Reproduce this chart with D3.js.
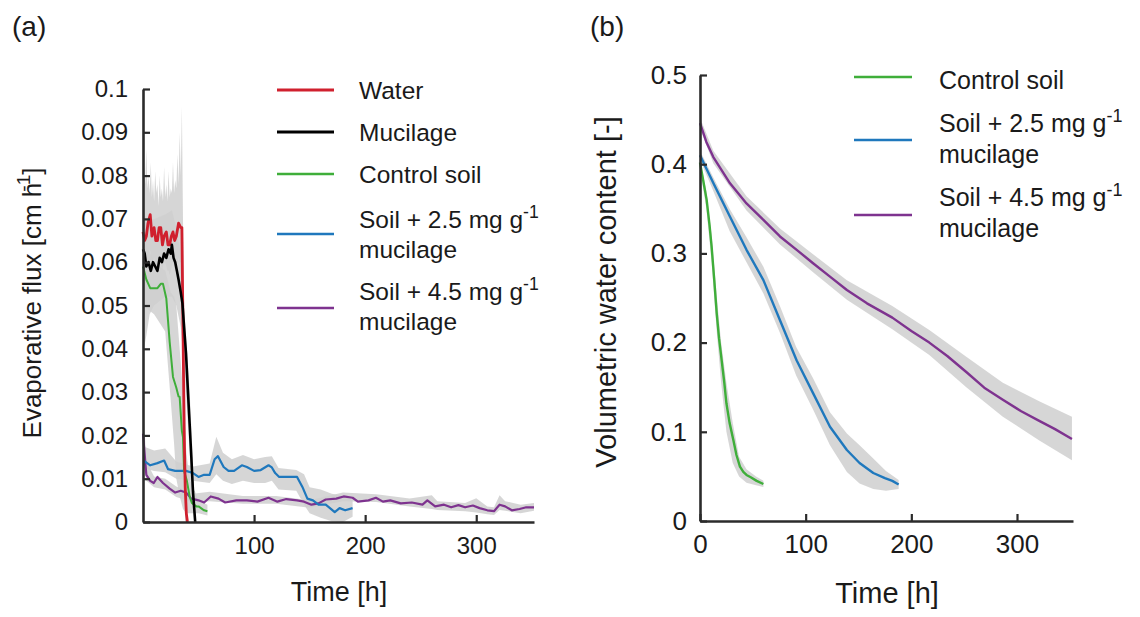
<!DOCTYPE html>
<html>
<head>
<meta charset="utf-8">
<script src="https://cdn.jsdelivr.net/npm/d3@7"></script>
<style>
  body { margin: 0; background: #fff; }
  svg { display: block; }
  text { font-family: "Liberation Sans", Arial, Helvetica, sans-serif; fill: #1a1a1a; }
</style>
</head>
<body>
<svg id="fig" width="1140" height="617"></svg>
<script>
// ---------- (a) evaporative flux [cm h-1] vs time [h] ----------
const waterFlux = [[0,0.067],[1.5,0.065],[3,0.066],[4.5,0.069],[6.5,0.071],[8,0.066],[10,0.068],[11.5,0.065],[13,0.065],[14.5,0.068],[16,0.068],[17.5,0.064],[19,0.066],[21,0.067],[22.5,0.064],[24,0.064],[25.5,0.066],[27,0.067],[28.5,0.065],[30,0.066],[32,0.069],[34,0.068],[35,0.068],[36,0.045],[37,0.022],[38,0.008],[39,0.002],[40,0]];
const mucilageFlux = [[0,0.063],[1.5,0.062],[3,0.059],[5,0.06],[7,0.058],[9,0.06],[11,0.059],[13,0.058],[15,0.061],[17,0.06],[19,0.062],[21,0.061],[23,0.063],[25,0.062],[26,0.064],[27.5,0.061],[29,0.06],[30.5,0.058],[32,0.056],[34,0.053],[35.5,0.0505],[37,0.045],[38.7,0.039],[40.5,0.03],[42,0.0226],[43.5,0.015],[45,0.007],[47,0]];
const controlFlux = [[0,0.059],[3,0.056],[6.5,0.054],[10,0.054],[13,0.054],[16,0.055],[18,0.055],[21,0.0516],[24,0.0416],[27,0.0335],[30,0.031],[32,0.029],[33,0.0289],[35,0.021],[36,0.0196],[37,0.0118],[39.5,0.0095],[42,0.0059],[44,0.0044],[48,0.0036],[50,0.0036],[55,0.0027],[58,0.0025]];
const mucilage25Flux = [[0,0.014],[1.6,0.014],[6.5,0.0131],[13,0.0136],[19,0.0142],[22.6,0.0122],[29,0.0118],[38.7,0.0118],[45,0.0113],[50,0.0104],[55,0.0109],[60,0.0109],[64.5,0.0145],[67.5,0.0152],[72.6,0.0127],[77,0.0118],[82,0.0118],[89,0.0131],[93.5,0.0127],[100,0.0118],[106,0.012],[113,0.0131],[116,0.0126],[119,0.0113],[122.6,0.0104],[130,0.0104],[138.7,0.0104],[143.5,0.0081],[148,0.0054],[153,0.005],[158,0.004],[164.5,0.004],[172.6,0.0023],[177,0.0032],[182,0.0027],[188.7,0.0032]];
const mucilage45Flux = [[0,0.0204],[3,0.0109],[6.5,0.0095],[9.7,0.009],[13,0.0104],[18,0.009],[24,0.0077],[29,0.0068],[34,0.0072],[38.7,0.0068],[43.5,0.0054],[50,0.005],[55,0.0045],[61,0.0059],[68,0.0054],[74,0.0045],[84,0.005],[93.5,0.005],[103,0.0047],[113,0.0056],[121,0.0047],[129,0.0053],[138.7,0.005],[145,0.0047],[151.6,0.004],[158,0.0043],[164.5,0.0052],[174,0.0054],[180.6,0.0059],[188.7,0.0056],[193.5,0.0047],[203,0.005],[209.7,0.0056],[216,0.0047],[222.6,0.005],[232,0.0043],[242,0.0045],[251.6,0.004],[256,0.005],[263,0.0036],[271,0.004],[277.4,0.0034],[284,0.0039],[290,0.0034],[297,0.0038],[303,0.0032],[310,0.0027],[316,0.0025],[321,0.004],[326,0.0036],[332,0.0027],[339,0.003],[345,0.0034],[352,0.0034]];

// spread bands: [time, lower, upper]
const waterBand = [[0,0.06,0.075],[1,0.058,0.082],[2,0.059,0.078],[3,0.06,0.086],[4,0.061,0.077],[5,0.062,0.08],[6,0.063,0.076],[7,0.062,0.083],[8,0.06,0.075],[9,0.06,0.079],[10,0.061,0.074],[11,0.06,0.081],[12,0.059,0.076],[13,0.058,0.078],[14,0.06,0.073],[15,0.061,0.08],[16,0.06,0.075],[17,0.058,0.077],[18,0.059,0.074],[19,0.06,0.082],[20,0.06,0.075],[21,0.059,0.078],[22,0.058,0.074],[23,0.058,0.081],[24,0.057,0.075],[25,0.058,0.077],[26,0.059,0.076],[27,0.06,0.083],[28,0.059,0.076],[29,0.058,0.079],[30,0.059,0.077],[31,0.06,0.085],[32,0.061,0.078],[33,0.06,0.09],[34,0.06,0.08],[35,0.058,0.096],[36,0.03,0.07],[37,0.01,0.05],[38,0,0.03],[39,0,0.012],[40,0,0.002]];
const mucilageBand = [[0,0.039,0.072],[3,0.043,0.07],[6,0.048,0.07],[10,0.05,0.07],[20,0.052,0.071],[26,0.052,0.072],[30,0.05,0.068],[34,0.045,0.062],[38,0.033,0.046],[42,0.016,0.03],[46,0,0.008],[47,0,0.002]];
const controlBand = [[0,0.05,0.066],[10,0.048,0.06],[20,0.044,0.058],[25,0.028,0.053],[28,0.018,0.052],[30,0.01,0.05],[33,0.006,0.04],[36,0.003,0.03],[39,0.002,0.016],[42,0.002,0.01],[50,0.002,0.005],[58,0.0015,0.004]];
const mucilage25Band = [[0,0.0125,0.0175],[10,0.0118,0.0165],[20,0.0115,0.017],[30,0.01,0.014],[45,0.0095,0.0128],[60,0.009,0.0135],[66,0.011,0.0197],[72,0.0095,0.016],[80,0.0088,0.0145],[90,0.0095,0.0155],[100,0.009,0.0145],[110,0.009,0.015],[116,0.0095,0.0152],[122,0.0075,0.0125],[138,0.0072,0.012],[145,0.004,0.011],[150,0.002,0.008],[160,0.001,0.0075],[170,0.0002,0.0065],[180,0,0.006],[188.7,0.0012,0.005]];
const mucilage45Band = [[0,0.0145,0.0275],[3,0.0095,0.014],[10,0.008,0.0105],[20,0.0075,0.01],[30,0.0058,0.0082],[45,0.0045,0.0065],[60,0.0048,0.007],[90,0.0042,0.006],[120,0.0042,0.006],[150,0.0033,0.005],[180,0.0048,0.0068],[210,0.0046,0.0064],[240,0.0036,0.0054],[260,0.003,0.0062],[265,0.0028,0.0048],[290,0.0025,0.0044],[300,0.0022,0.0055],[310,0.0018,0.0036],[316,0.0016,0.0034],[321,0.0028,0.0062],[326,0.0026,0.0048],[340,0.002,0.004],[352,0.0026,0.0044]];

// ---------- (b) volumetric water content [-] vs time [h] ----------
const controlVwc = [[0,0.402],[3,0.382],[6.3,0.36],[9,0.332],[11,0.3075],[13.5,0.27],[15.8,0.233],[18,0.205],[20.5,0.18],[23,0.155],[25,0.132],[28,0.11],[31.5,0.091],[34.5,0.074],[37.8,0.061],[41,0.055],[44,0.0516],[48,0.049],[53.6,0.045],[60,0.0415]];
const mucilage25Vwc = [[0,0.41],[12.6,0.379],[28.4,0.341],[44,0.304],[60,0.27],[75.7,0.225],[91.5,0.18],[107,0.1434],[123,0.1057],[139,0.0796],[151,0.065],[164,0.0538],[175,0.048],[182,0.045],[188,0.041]];
const mucilage45Vwc = [[0,0.446],[6,0.425],[12.6,0.408],[28.4,0.3786],[44,0.356],[60,0.3375],[75.7,0.319],[91.5,0.304],[107,0.289],[123,0.274],[139,0.259],[158,0.244],[182,0.228],[200,0.213],[217,0.2],[234,0.185],[252,0.167],[269,0.1495],[286.6,0.136],[304,0.123],[321.5,0.112],[336,0.103],[352,0.092]];

const controlVwcBand = [[0,0.395,0.405],[6,0.35,0.37],[11,0.29,0.32],[16,0.21,0.25],[20,0.155,0.2],[25,0.1,0.155],[31,0.065,0.11],[37,0.05,0.072],[44,0.043,0.058],[53,0.04,0.05],[60,0.038,0.045]];
const mucilage25VwcBand = [[0,0.405,0.415],[12.6,0.37,0.385],[28,0.325,0.35],[44,0.29,0.318],[60,0.255,0.285],[76,0.21,0.24],[91,0.163,0.195],[107,0.125,0.16],[123,0.085,0.122],[139,0.055,0.098],[151,0.042,0.085],[164,0.036,0.07],[176,0.034,0.056],[188,0.036,0.046]];
const mucilage45VwcBand = [[0,0.44,0.452],[12.6,0.401,0.415],[44,0.348,0.364],[75.7,0.31,0.328],[107,0.279,0.299],[139,0.248,0.27],[182,0.215,0.241],[217,0.186,0.214],[252,0.15,0.184],[286.6,0.117,0.155],[321.5,0.09,0.134],[352,0.068,0.117]];

// axis ticks and labels
const fluxTicks = [0,0.01,0.02,0.03,0.04,0.05,0.06,0.07,0.08,0.09,0.1];
const fluxTickLabels = ["0","0.01","0.02","0.03","0.04","0.05","0.06","0.07","0.08","0.09","0.1"];
const timeTicksA = [100,200,300];
const vwcTicks = [0,0.1,0.2,0.3,0.4,0.5];
const vwcTickLabels = ["0","0.1","0.2","0.3","0.4","0.5"];
const timeTicksB = [0,100,200,300];

const legendA = ["Water","Mucilage","Control soil","Soil + 2.5 mg g|mucilage","Soil + 4.5 mg g|mucilage"];
const legendB = ["Control soil","Soil + 2.5 mg g|mucilage","Soil + 4.5 mg g|mucilage"];

// ---------- styling ----------
const colors = { water: "#d0202e", mucilage: "#000000", control: "#3fae3a", m25: "#1f78bd", m45: "#7e338f" };
const bandFill = "#cfcfcf";
const axisColor = "#2b2b2b";

const svg = d3.select("#fig");

function drawAxes(g, x, y, opts) {
  const yAxis = d3.axisLeft(y).tickValues(opts.yTicks).tickFormat((d, i) => opts.yLabels[i])
    .tickSizeInner(-7).tickSizeOuter(0).tickPadding(opts.yPad);
  const xAxis = d3.axisBottom(x).tickValues(opts.xTicks).tickFormat(d3.format("d"))
    .tickSizeInner(-7).tickSizeOuter(0).tickPadding(opts.xPad);
  const gy = g.append("g").attr("transform", `translate(${x.range()[0]},0)`).call(yAxis);
  const gx = g.append("g").attr("transform", `translate(0,${y.range()[0]})`).call(xAxis);
  [gx, gy].forEach(a => {
    a.select(".domain").attr("stroke", axisColor).attr("stroke-width", 2.6);
    a.selectAll(".tick line").attr("stroke", axisColor).attr("stroke-width", 2.2);
    a.selectAll(".tick text").attr("font-size", opts.tickFont).attr("fill", "#1a1a1a")
      .style("font-family", '"Liberation Sans", Arial, sans-serif');
  });
}

function drawBand(g, x, y, data) {
  g.append("path").datum(data)
    .attr("fill", bandFill).attr("fill-opacity", 0.85).attr("stroke", "none")
    .attr("d", d3.area().x(d => x(d[0])).y0(d => y(d[1])).y1(d => y(d[2])));
}

function drawLine(g, x, y, data, color, w) {
  g.append("path").datum(data)
    .attr("fill", "none").attr("stroke", color).attr("stroke-width", w)
    .attr("stroke-linejoin", "round").attr("stroke-linecap", "butt")
    .attr("d", d3.line().x(d => x(d[0])).y(d => y(d[1])));
}

function legendLabel(g, xPos, yPos, label, fs, lineH) {
  const parts = label.split("|");
  const t = g.append("text").attr("x", xPos).attr("y", yPos).attr("font-size", fs);
  t.append("tspan").text(parts[0]);
  if (parts.length > 1) {
    t.append("tspan").attr("font-size", fs * 0.72).attr("dy", -fs * 0.42).text("-1");
    g.append("text").attr("x", xPos).attr("y", yPos + lineH).attr("font-size", fs).text(parts[1]);
  }
}

// ---------- panel (a) ----------
const xA = d3.scaleLinear().domain([0, 352]).range([143, 534]);
const yA = d3.scaleLinear().domain([0, 0.1]).range([522, 89]);
const gA = svg.append("g");

gA.append("text").attr("x", 12).attr("y", 36).attr("font-size", 28).text("(a)");

const bandsA = gA.append("g");
[waterBand, mucilageBand, controlBand, mucilage25Band, mucilage45Band].forEach(b => drawBand(bandsA, xA, yA, b));

const linesA = gA.append("g");
drawLine(linesA, xA, yA, mucilage45Flux, colors.m45, 2.2);
drawLine(linesA, xA, yA, mucilage25Flux, colors.m25, 2.2);
drawLine(linesA, xA, yA, controlFlux, colors.control, 2.0);
drawLine(linesA, xA, yA, waterFlux, colors.water, 2.8);
drawLine(linesA, xA, yA, mucilageFlux, colors.mucilage, 2.6);

drawAxes(gA, xA, yA, { yTicks: fluxTicks, yLabels: fluxTickLabels, xTicks: timeTicksA, yPad: 15, xPad: 15, tickFont: 24 });

gA.append("text").attr("x", 339).attr("y", 601).attr("text-anchor", "middle").attr("font-size", 27).text("Time [h]");
const ytA = gA.append("text").attr("transform", "translate(41,303) rotate(-90)")
  .attr("text-anchor", "middle").attr("font-size", 26);
ytA.append("tspan").text("Evaporative flux [cm h");
ytA.append("tspan").attr("font-size", 19).attr("dx", -9).attr("dy", -11).text("-1");
ytA.append("tspan").attr("dy", 11).text("]");

// legend (a)
const legColorsA = [colors.water, colors.mucilage, colors.control, colors.m25, colors.m45];
const legLineYA = [90, 132, 174, 234, 308];
const legTextYA = [99, 141, 183, 228, 300];
const legA = gA.append("g");
legendA.forEach((lab, i) => {
  legA.append("line").attr("x1", 277).attr("x2", 334).attr("y1", legLineYA[i]).attr("y2", legLineYA[i])
    .attr("stroke", legColorsA[i]).attr("stroke-width", i < 2 ? 2.8 : 2.4);
  legendLabel(legA, 359, legTextYA[i], lab, 24.5, 30);
});

// ---------- panel (b) ----------
const xB = d3.scaleLinear().domain([0, 353]).range([700, 1073]);
const yB = d3.scaleLinear().domain([0, 0.5]).range([521, 75]);
const gB = svg.append("g");

gB.append("text").attr("x", 590).attr("y", 36).attr("font-size", 28).text("(b)");

const bandsB = gB.append("g");
[controlVwcBand, mucilage25VwcBand, mucilage45VwcBand].forEach(b => drawBand(bandsB, xB, yB, b));

const linesB = gB.append("g");
drawLine(linesB, xB, yB, mucilage45Vwc, colors.m45, 2.4);
drawLine(linesB, xB, yB, mucilage25Vwc, colors.m25, 2.4);
drawLine(linesB, xB, yB, controlVwc, colors.control, 2.4);

drawAxes(gB, xB, yB, { yTicks: vwcTicks, yLabels: vwcTickLabels, xTicks: timeTicksB, yPad: 13, xPad: 14, tickFont: 26 });

gB.append("text").attr("x", 887).attr("y", 603).attr("text-anchor", "middle").attr("font-size", 29).text("Time [h]");
gB.append("text").attr("transform", "translate(616,292) rotate(-90)")
  .attr("text-anchor", "middle").attr("font-size", 29).text("Volumetric water content [-]");

// legend (b)
const legColorsB = [colors.control, colors.m25, colors.m45];
const legLineYB = [77, 140, 215];
const legTextYB = [89, 132, 206];
const legB = gB.append("g");
legendB.forEach((lab, i) => {
  legB.append("line").attr("x1", 854).attr("x2", 912).attr("y1", legLineYB[i]).attr("y2", legLineYB[i])
    .attr("stroke", legColorsB[i]).attr("stroke-width", 2.4);
  legendLabel(legB, 939, legTextYB[i], lab, 25, 31);
});
</script>
</body>
</html>
